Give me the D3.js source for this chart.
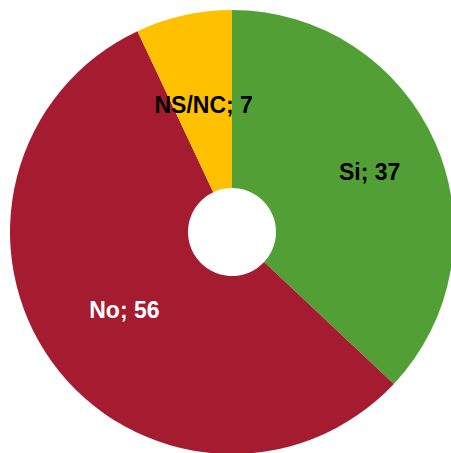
<html>
  <head>
    <script src="https://d3js.org/d3.v7.min.js"></script>
    <style>
      body { margin: 0; background: #fff; }
      text { font-family: "Liberation Sans", Arial, sans-serif; font-weight: bold; }
    </style>
  </head>
  <body>
    <div id="vis"></div>
    <script>
      // data
      let categories = ["Si", "No", "NS/NC"];
      let values = [37, 56, 7];
      let colors = ["#52a035", "#a51b30", "#ffc000"];
      let labelColors = ["#000", "#fff", "#000"];
      let labelRadius = [150, 133, 130];

      let width = 451, height = 453;
      let cx = 232, cy = 232;
      let outer = 222, inner = 44;

      let svg = d3.select("#vis").append("svg")
        .attr("width", width)
        .attr("height", height);

      let pie = d3.pie().sort(null).value((d) => d.v);
      let slices = pie(categories.map((c, i) => ({ c: c, v: values[i], i: i })));

      let arc = d3.arc().innerRadius(inner).outerRadius(outer);

      let g = svg.append("g").attr("transform", `translate(${cx},${cy})`);

      g.selectAll(".slice")
        .data(slices)
        .enter()
        .append("path")
        .attr("class", "slice")
        .attr("fill", (d) => colors[d.data.i])
        .attr("d", arc);

      g.selectAll(".lbl")
        .data(slices)
        .enter()
        .append("text")
        .attr("class", "lbl")
        .attr("transform", (d) => {
          let r = labelRadius[d.data.i];
          let c = d3.arc().innerRadius(r).outerRadius(r).centroid(d);
          return `translate(${c[0]},${c[1]})`;
        })
        .attr("text-anchor", "middle")
        .attr("dy", "0.35em")
        .style("font-size", "23px")
        .attr("fill", (d) => labelColors[d.data.i])
        .text((d) => d.data.c + "; " + d.data.v);
    </script>
  </body>
</html>
